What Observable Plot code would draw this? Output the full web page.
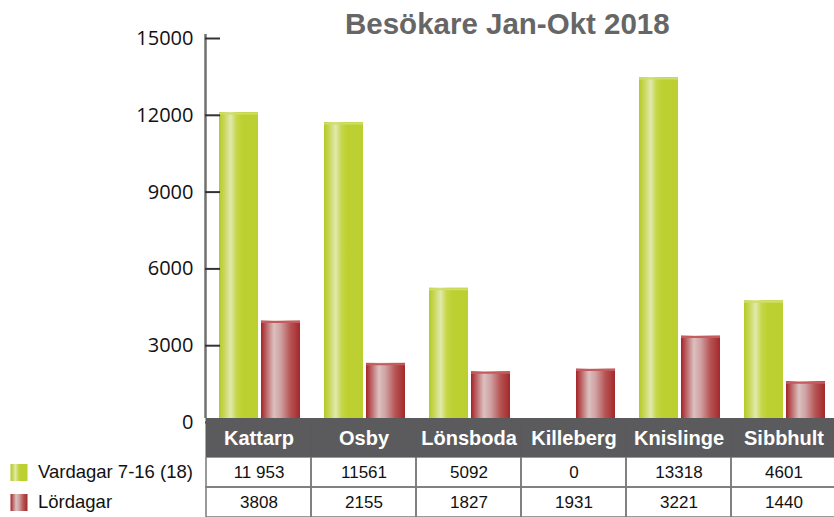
<!DOCTYPE html>
<html><head><meta charset="utf-8">
<script src="https://cdn.jsdelivr.net/npm/d3@7"></script>
<script src="https://cdn.jsdelivr.net/npm/@observablehq/plot@0.6"></script>
<style>
body{margin:0;background:#fff;}
#wrap{position:relative;width:834px;height:517px;overflow:hidden;font-family:"Liberation Sans",Arial,sans-serif;}
#wrap > svg{position:absolute;left:0;}
#title{position:absolute;left:345px;top:9px;font:bold 29.5px/29px "Liberation Sans",Arial,sans-serif;color:#666;white-space:nowrap;}
</style>
</head><body>
<svg width="0" height="0" style="position:absolute">
  <defs>
    <linearGradient id="gGreen" x1="0" x2="1" y1="0" y2="0">
      <stop offset="0" stop-color="#b3c928"/>
      <stop offset="0.12" stop-color="#c6d652"/>
      <stop offset="0.3" stop-color="#e1e9ae"/>
      <stop offset="0.45" stop-color="#c5d648"/>
      <stop offset="0.6" stop-color="#bcd131"/>
      <stop offset="1" stop-color="#bbd030"/>
    </linearGradient>
    <linearGradient id="gRed" x1="0" x2="1" y1="0" y2="0">
      <stop offset="0" stop-color="#a42326"/>
      <stop offset="0.12" stop-color="#b95c5e"/>
      <stop offset="0.33" stop-color="#dcc0c0"/>
      <stop offset="0.5" stop-color="#d0a2a2"/>
      <stop offset="0.75" stop-color="#b65454"/>
      <stop offset="1" stop-color="#a4282a"/>
    </linearGradient>
  </defs>
</svg>
<div id="wrap"><div id="title">Besökare Jan-Okt 2018</div></div>
<script>
const categories = ["Kattarp","Osby","Lönsboda","Killeberg","Knislinge","Sibbhult"];
const seriesNames = ["Vardagar 7-16 (18)","Lördagar"];
const vardagar = [11953,11561,5092,0,13318,4601];
const lordagar = [3808,2155,1827,1931,3221,1440];
const vardagarLabels = ["11 953","11561","5092","0","13318","4601"];
const lordagarLabels = ["3808","2155","1827","1931","3221","1440"];
const yTicks = [0,3000,6000,9000,12000,15000];
const yDomain = [0,15000];
const gradients = ["url(#gGreen)","url(#gRed)"];
const topEdge = ["#cfdd6a","#c65a5c"];

const bars = [];
categories.forEach((c,i)=>{
  bars.push({cat:c, series:seriesNames[0], value:vardagar[i]});
  bars.push({cat:c, series:seriesNames[1], value:lordagar[i]});
});
const cells = [];
categories.forEach((c,i)=>{
  cells.push({cat:c, row:seriesNames[0], label:vardagarLabels[i]});
  cells.push({cat:c, row:seriesNames[1], label:lordagarLabels[i]});
});

const wrap = document.getElementById("wrap");
const frameOpts = {width:834, height:517, marginLeft:205, marginRight:0, marginTop:34, marginBottom:99};
// the category band continues a little past the right edge of the picture
const catRange = [205, 838.6];
const tableRange = [203.5, 838.6];

const main = Plot.plot({
  ...frameOpts,
  style:{background:"transparent"},
  fx:{domain:categories, range:catRange, padding:0, axis:null, label:null},
  x:{domain:seriesNames, paddingInner:0.0706, paddingOuter:0.2776, axis:null},
  y:{domain:yDomain, axis:null},
  color:{type:"ordinal", domain:seriesNames, range:gradients},
  marks:[
    Plot.barY(bars, {fx:"cat", x:"series", y:"value", fill:"series"}),
    Plot.tickY(bars.filter(d=>d.value>0 && d.series===seriesNames[0]), {fx:"cat", x:"series", y:"value", stroke:topEdge[0], strokeWidth:2, dy:1}),
    Plot.tickY(bars.filter(d=>d.value>0 && d.series===seriesNames[1]), {fx:"cat", x:"series", y:"value", stroke:topEdge[1], strokeWidth:2, dy:1})
  ]
});
main.style.top = "0px";
wrap.appendChild(main);

const axis = Plot.plot({
  ...frameOpts,
  style:{background:"transparent", fontFamily:"'Open Sans', sans-serif", color:"#111"},
  x:{domain:[0,1], axis:null},
  y:{domain:yDomain, axis:null},
  marks:[
    Plot.ruleX([0], {y1:yDomain[0], y2:yDomain[1], stroke:"#707070", strokeWidth:2.5}),
    Plot.axisY({ticks:yTicks, anchor:"left", label:null, tickSize:-15, tickPadding:27, fontSize:20, dy:4, stroke:"#333", strokeWidth:2, fill:"#111", tickFormat:d=>String(d)})
  ]
});
axis.style.top = "0px";
wrap.appendChild(axis);

const header = Plot.plot({
  width:834, height:39, marginLeft:203.5, marginRight:0, marginTop:0, marginBottom:0,
  style:{background:"transparent", fontFamily:"'Liberation Sans', Arial, sans-serif"},
  x:{domain:categories, range:tableRange, padding:0, axis:null},
  marks:[
    Plot.cell(categories, {x:d=>d, fill:"#5b5b5d", stroke:"#5b5b5d", strokeWidth:1}),
    Plot.text(categories, {x:d=>d, text:d=>d, fill:"white", fontWeight:"bold", fontSize:20, dy:1})
  ]
});
header.style.top = "418px";
wrap.appendChild(header);

const body = Plot.plot({
  width:834, height:60, marginLeft:203.5, marginRight:0, marginTop:0, marginBottom:0,
  style:{background:"transparent", fontFamily:"'Liberation Sans', Arial, sans-serif", color:"#111"},
  x:{domain:categories, range:tableRange, padding:0, axis:null},
  y:{domain:seriesNames, padding:0, axis:null},
  color:{type:"ordinal", domain:seriesNames, range:gradients},
  marks:[
    Plot.cell(cells, {x:"cat", y:"row", fill:"none", stroke:"#7a7a7a", strokeWidth:1.5}),
    Plot.text(cells, {x:"cat", y:"row", text:"label", fontSize:17, fill:"#111"}),
    Plot.dot(seriesNames, {y:d=>d, frameAnchor:"left", dx:-185, symbol:"square", r:9.6, fill:d=>d}),
    Plot.text(seriesNames, {y:d=>d, text:d=>d, frameAnchor:"left", dx:-166, textAnchor:"start", fontSize:18.5, fill:"#111"})
  ]
});
body.style.top = "457px";
wrap.appendChild(body);
</script>
</body></html>
